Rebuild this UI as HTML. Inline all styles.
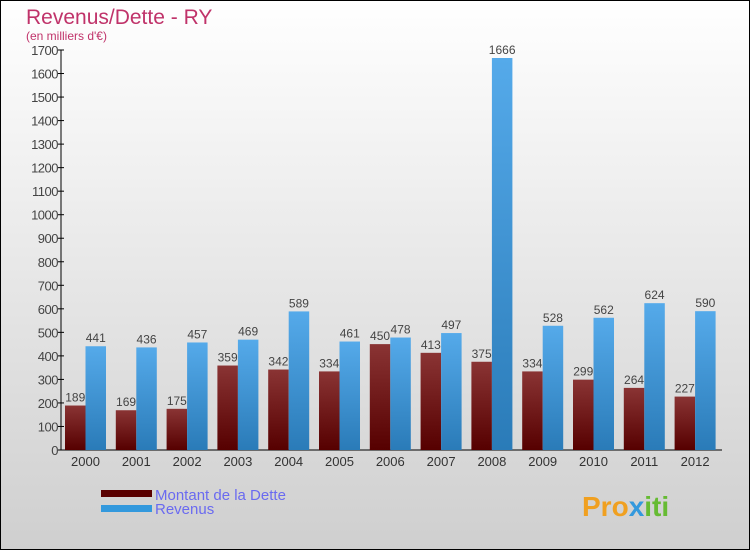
<!DOCTYPE html>
<html><head><meta charset="utf-8"><style>
html,body{margin:0;padding:0}
body{width:750px;height:550px;overflow:hidden;font-family:"Liberation Sans",sans-serif}
</style></head><body>
<svg width="750" height="550" xmlns="http://www.w3.org/2000/svg">
<defs>
<linearGradient id="bg" x1="0" y1="0" x2="0" y2="1"><stop offset="0" stop-color="#ffffff"/><stop offset="1" stop-color="#cfcfcf"/></linearGradient>
<linearGradient id="gd" x1="0" y1="0" x2="0" y2="1"><stop offset="0" stop-color="#8a3434"/><stop offset="1" stop-color="#560000"/></linearGradient>
<linearGradient id="gr" x1="0" y1="0" x2="0" y2="1"><stop offset="0" stop-color="#55aaea"/><stop offset="1" stop-color="#2a7bb8"/></linearGradient>
</defs>
<rect x="0.5" y="0.5" width="749" height="549" fill="url(#bg)" stroke="#000"/>
<text x="26" y="24" font-size="21" fill="#c0336a">Revenus/Dette - RY</text>
<text x="26" y="40" font-size="12" fill="#c0336a">(en milliers d'€)</text>
<g id="axes"></g>
<g id="bars"></g>
<g>
<rect x="101" y="490" width="51" height="7" fill="#5a0000"/>
<rect x="101" y="505" width="51" height="7" fill="#3399dd"/>
<text x="155" y="500" font-size="15" fill="#6a6af0">Montant de la Dette</text>
<text x="155" y="514" font-size="15" fill="#6a6af0">Revenus</text>
</g>
<text x="582" y="516" font-size="28" font-weight="bold" fill="#f0a020">Pro<tspan fill="#3399dd">x</tspan><tspan fill="#66bb33">iti</tspan></text>
</svg>
<script>
const categories=["2000","2001","2002","2003","2004","2005","2006","2007","2008","2009","2010","2011","2012"];
const dette=[189,169,175,359,342,334,450,413,375,334,299,264,227];
const revenus=[441,436,457,469,589,461,478,497,1666,528,562,624,590];
const yTicks=[0,100,200,300,400,500,600,700,800,900,1000,1100,1200,1300,1400,1500,1600,1700];
const NS="http://www.w3.org/2000/svg";
const x0=61,y0=450,yTop=50,yMax=1700,step=50.8,bw=20.5;
function y(v){return y0-(v/yMax)*(y0-yTop);}
function gx(i){return x0+4+i*step;}
function mk(t,a,p){const e=document.createElementNS(NS,t);for(const k in a)e.setAttribute(k,a[k]);p.appendChild(e);return e;}
const ax=document.getElementById('axes'),bars=document.getElementById('bars');
const yl=mk('line',{x1:x0,y1:yTop,x2:x0,y2:y0,stroke:'#000'},ax);


const xl=mk('line',{x1:x0,y1:y0,x2:722,y2:y0,stroke:'#000'},ax);


yTicks.forEach(v=>{
  mk('line',{x1:x0-3,y1:y(v),x2:x0+3,y2:y(v),stroke:'#000'},ax);
  const t=mk('text',{x:x0-3,y:y(v)+5,'font-size':13,fill:'#444','text-anchor':'end','letter-spacing':'-0.5'},ax);
  t.textContent=v;
  
  
});
categories.forEach((c,i)=>{
  const g=gx(i);
  const t=mk('text',{x:g+bw,y:y0+16,'font-size':13,fill:'#333','text-anchor':'middle'},ax);
  t.textContent=c;
  
  
  const b1=mk('rect',{x:g,y:y(dette[i]),width:bw,height:y0-y(dette[i]),fill:'url(#gd)'},bars);
  
  
  const b2=mk('rect',{x:g+bw,y:y(revenus[i]),width:bw,height:y0-y(revenus[i]),fill:'url(#gr)'},bars);
  
  
  const l1=mk('text',{x:g+bw/2,y:y(dette[i])-4,'font-size':12,fill:'#444','text-anchor':'middle'},bars);
  l1.textContent=dette[i];
  
  
  const l2=mk('text',{x:g+bw*1.5,y:y(revenus[i])-4,'font-size':12,fill:'#444','text-anchor':'middle'},bars);
  l2.textContent=revenus[i];
  
  
});
</script>
</body></html>
